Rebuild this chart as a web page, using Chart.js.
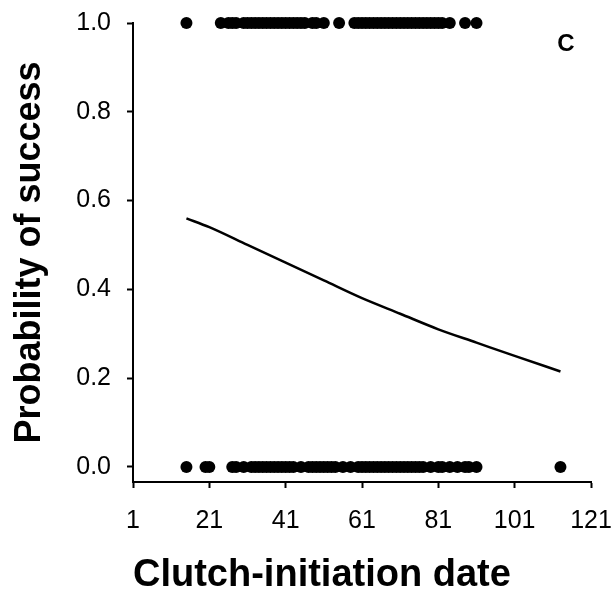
<!DOCTYPE html>
<html>
<head>
<meta charset="utf-8">
<script src="https://cdn.jsdelivr.net/npm/chart.js@4"></script>
<style>
    html, body { margin: 0; padding: 0; background: #fff; }
    #wrap { width: 614px; height: 591px; }
</style>
</head>
<body>
<div id="wrap"><canvas id="successChart" width="614" height="591"></canvas></div>
<script>
// nests that succeeded (y = 1) and failed (y = 0), by clutch-initiation day
const successDays = [15, 24, 26, 27, 28, 30, 31, 32, 33, 34, 35, 36, 37, 38, 39, 40, 41, 42, 43, 44, 45, 46, 48, 49, 51,
    55, 59, 60, 61, 62, 63, 64, 65, 66, 67, 68, 69, 70, 71, 72, 73, 74, 75, 76, 77, 78, 79, 80, 81, 82, 84, 88, 91];
const failureDays = [15, 20, 21, 27, 28, 30, 32, 33, 34, 35, 36, 37, 38, 39, 40, 41, 42, 43, 45, 47, 48, 49, 50, 51, 52,
    53, 54, 56, 58, 60, 61, 62, 63, 64, 65, 66, 67, 68, 69, 70, 71, 72, 73, 74, 75, 76, 77, 79, 81, 82, 84, 86, 88, 89, 91, 113];

// fitted curve
const fitDays = [15, 21, 31, 41, 51, 61, 71, 81, 91, 101, 113];
const fitProb = [0.56, 0.54, 0.50, 0.46, 0.42, 0.38, 0.345, 0.31, 0.28, 0.25, 0.215];

const xTicks = [1, 21, 41, 61, 81, 101, 121];
const yTicks = [0, 0.2, 0.4, 0.6, 0.8, 1.0];
const panelLabel = 'C';

const FONT = '"Liberation Sans", Arial, sans-serif';

// panel letter in the top right corner
const panelLabelPlugin = {
    id: 'panelLabel',
    afterDraw(chart) {
        const { ctx, chartArea } = chart;
        ctx.save();
        ctx.font = 'bold 24px ' + FONT;
        ctx.fillStyle = '#000';
        ctx.textAlign = 'center';
        ctx.textBaseline = 'middle';
        ctx.fillText(panelLabel, chartArea.right - 25, chartArea.top + 21);
        ctx.restore();
    }
};

const ctx = document.getElementById('successChart').getContext('2d');
new Chart(ctx, {
    type: 'scatter',
    data: {
        datasets: [
            {
                label: 'Success',
                data: successDays.map(d => ({ x: d, y: 1 })),
                backgroundColor: '#000',
                borderWidth: 0,
                pointRadius: 6,
                clip: false
            },
            {
                label: 'Failure',
                data: failureDays.map(d => ({ x: d, y: 0 })),
                backgroundColor: '#000',
                borderWidth: 0,
                pointRadius: 6,
                clip: false
            },
            {
                label: 'Fit',
                data: fitDays.map((d, i) => ({ x: d, y: fitProb[i] })),
                showLine: true,
                borderColor: '#000',
                borderWidth: 2.5,
                pointRadius: 0,
                cubicInterpolationMode: 'monotone',
                fill: false
            }
        ]
    },
    options: {
        responsive: false,
        animation: false,
        devicePixelRatio: 1,
        layout: { padding: { top: 23, right: 23, left: 0, bottom: 0 } },
        plugins: {
            legend: { display: false },
            tooltip: { enabled: false }
        },
        scales: {
            x: {
                type: 'linear',
                min: 1,
                max: 121,
                afterBuildTicks: axis => { axis.ticks = xTicks.map(v => ({ value: v })); },
                afterFit: axis => {
                    axis.height = 109;
                    axis.paddingLeft = 0;
                    axis.paddingRight = 0;
                },
                grid: { display: true, drawOnChartArea: false, drawTicks: true, tickLength: 6, tickWidth: 2, tickColor: '#000' },
                border: { display: true, color: '#000', width: 2 },
                ticks: { color: '#000', font: { family: FONT, size: 25 }, padding: 18, maxRotation: 0, autoSkip: false },
                title: {
                    display: true,
                    text: 'Clutch-initiation date',
                    align: 'start',
                    color: '#000',
                    font: { family: FONT, size: 38, weight: 'bold', lineHeight: 0.8 },
                    padding: 0
                }
            },
            y: {
                min: -0.034,
                max: 1.0,
                afterBuildTicks: axis => { axis.ticks = yTicks.map(v => ({ value: v })); },
                afterFit: axis => {
                    axis.width = 133;
                    axis.paddingTop = 0;
                    axis.paddingBottom = 0;
                },
                grid: { display: true, drawOnChartArea: false, drawTicks: true, tickLength: 6, tickWidth: 2, tickColor: '#000' },
                border: { display: true, color: '#000', width: 2 },
                ticks: {
                    color: '#000',
                    font: { family: FONT, size: 25 },
                    padding: 16,
                    callback: v => v.toFixed(1)
                },
                title: {
                    display: true,
                    text: 'Probability of success',
                    color: '#000',
                    font: { family: FONT, size: 36, weight: 'bold', lineHeight: 1.0 },
                    padding: { top: 12, bottom: 0 }
                }
            }
        }
    },
    plugins: [panelLabelPlugin]
});
</script>
</body>
</html>
